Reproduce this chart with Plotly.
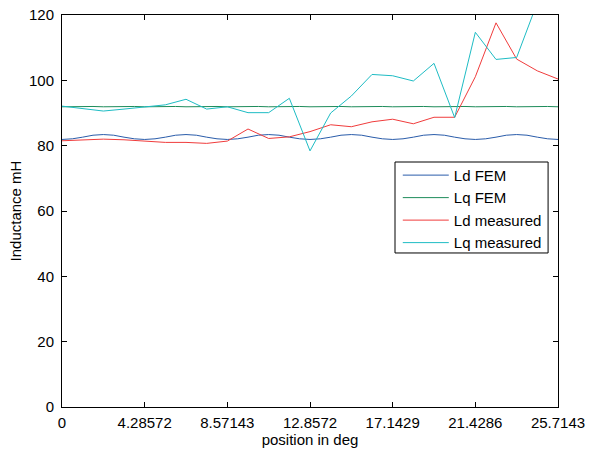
import plotly.graph_objects as go

# measured grid: 25 points, step 180/7/24 deg
step_meas = 180 / 7 / 24
x_meas = [i * step_meas for i in range(25)]
ld_measured = [81.5, 81.7, 82.0, 81.8, 81.5, 81.0, 81.0, 80.7, 81.4, 85.1, 82.2, 82.7, 84.3,
               86.4, 85.8, 87.3, 88.1, 86.7, 88.7, 88.7, 101.1, 117.6, 106.5, 102.9, 100.4]
lq_measured = [92.1, 91.3, 90.6, 91.2, 91.8, 92.5, 94.2, 91.2, 91.9, 90.1, 90.1, 94.5, 78.4,
               90.0, 95.2, 101.8, 101.4, 99.8, 105.2, 88.6, 114.7, 106.4, 107.0, 123.8, 128.0]

# FEM grid: 49 points, step 180/7/48 deg
step_fem = 180 / 7 / 48
x_fem = [i * step_fem for i in range(49)]
ld_fem = [81.9, 82.1, 82.6, 83.2, 83.4, 83.2, 82.6, 82.1,
          81.9, 82.1, 82.6, 83.2, 83.4, 83.2, 82.6, 82.1,
          81.9, 82.1, 82.6, 83.2, 83.4, 83.2, 82.6, 82.1,
          81.9, 82.1, 82.6, 83.2, 83.4, 83.2, 82.6, 82.1,
          81.9, 82.1, 82.6, 83.2, 83.4, 83.2, 82.6, 82.1,
          81.9, 82.1, 82.6, 83.2, 83.4, 83.2, 82.6, 82.1, 81.9]
lq_fem = [91.9, 92.0, 92.1, 92.0, 91.9, 92.0, 92.1, 92.0,
          91.9, 92.0, 92.1, 92.0, 91.9, 92.0, 92.1, 92.0,
          91.9, 92.0, 92.1, 92.0, 91.9, 92.0, 92.1, 92.0,
          91.9, 92.0, 92.1, 92.0, 91.9, 92.0, 92.1, 92.0,
          91.9, 92.0, 92.1, 92.0, 91.9, 92.0, 92.1, 92.0,
          91.9, 92.0, 92.1, 92.0, 91.9, 92.0, 92.1, 92.0, 91.9]

x_tickvals = [k * 30 / 7 for k in range(7)]
x_ticktext = ["0", "4.28572", "8.57143", "12.8572", "17.1429", "21.4286", "25.7143"]

font = "Liberation Sans, Arial, sans-serif"
fs = 15

fig = go.Figure()
fig.add_trace(go.Scatter(x=x_fem, y=ld_fem, mode="lines", name="Ld FEM",
                         line=dict(color="#2a5caa", width=1)))
fig.add_trace(go.Scatter(x=x_fem, y=lq_fem, mode="lines", name="Lq FEM",
                         line=dict(color="#1e8c5a", width=1)))
fig.add_trace(go.Scatter(x=x_meas, y=ld_measured, mode="lines", name="Ld measured",
                         line=dict(color="#f03c3c", width=1)))
fig.add_trace(go.Scatter(x=x_meas, y=lq_measured, mode="lines", name="Lq measured",
                         line=dict(color="#1ebcc4", width=1)))

axis_common = dict(showline=True, linecolor="black", linewidth=1, mirror="ticks",
                   ticks="inside", ticklen=5, tickcolor="black", showgrid=False,
                   zeroline=False, ticklabeloverflow="allow", automargin=False,
                   tickfont=dict(family=font, size=fs, color="black"))

# legend frame
fig.add_shape(type="rect", xref="paper", yref="paper",
              x0=0.6714, x1=0.98, y0=0.3929, y1=0.625,
              line=dict(color="black", width=1), fillcolor="white", layer="above")

fig.update_layout(
    width=590, height=450,
    margin=dict(l=62, r=32, t=15, b=43, autoexpand=False),
    paper_bgcolor="white", plot_bgcolor="white",
    font=dict(family=font, size=fs, color="black"),
    xaxis=dict(range=[0, 180 / 7], tickvals=x_tickvals, ticktext=x_ticktext,
               ticklabelstandoff=2,
               title=dict(text="position in deg", standoff=2,
                          font=dict(family=font, size=fs)), **axis_common),
    yaxis=dict(range=[0, 120], dtick=20, ticklabelstandoff=4,
               title=dict(text="Inductance mH", standoff=3,
                          font=dict(family=font, size=fs)), **axis_common),
    legend=dict(x=0.677, y=0.633, xanchor="left", yanchor="top",
                borderwidth=0, bgcolor="rgba(0,0,0,0)",
                font=dict(family=font, size=fs), tracegroupgap=0, itemwidth=46),
    showlegend=True,
)

fig.write_html("out.html", config={"displayModeBar": False},
               post_script="document.body.style.margin='0px';")
